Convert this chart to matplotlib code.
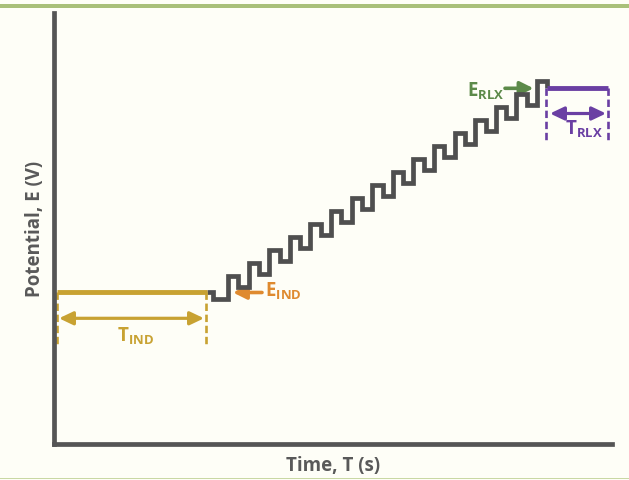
import matplotlib
matplotlib.use("Agg")
import matplotlib.pyplot as plt
import numpy as np
from matplotlib.patches import FancyArrowPatch, Rectangle

plt.rcParams["font.family"] = ["Open Sans", "DejaVu Sans"]
plt.rcParams["mathtext.fontset"] = "custom"
plt.rcParams["mathtext.rm"] = "Open Sans:bold"
plt.rcParams["mathtext.it"] = "Open Sans:bold"
plt.rcParams["mathtext.bf"] = "Open Sans:bold"

# waveform levels (arbitrary potential units) and timing (arbitrary time units)
E_IND = 152
E_RLX = 356
E_PRE = 145           # first reverse pulse before the staircase starts
e_high = [168, 181, 194, 207, 220, 233, 246, 259, 272, 285, 298, 311, 324, 337, 350, 363]
e_low = [157, 170, 183, 196, 209, 222, 235, 248, 261, 274, 287, 300, 313, 326, 339]

t_ind = [3.5, 153.5]        # induction period
t_pre = 159.2               # end of the short hold at E_IND
t_sw0 = 174.5               # first forward pulse
half_period = 10.3
t_rlx = [493.8, 554.5]      # relaxation period

gray = "#4f4f4f"
gold = "#c8a232"
orange = "#df8a2f"
green = "#5c8a49"
purple = "#6a3fa3"
label_gray = "#595959"

fig = plt.figure(figsize=(6.29, 4.8), dpi=100, facecolor="#fefef7")
ax = fig.add_axes([53.5 / 629, 36 / 480, (612 - 53.5) / 629, (444 - 13) / 480])
ax.set_facecolor("none")
ax.set_xlim(0, 558.5)
ax.set_ylim(0, 431)

for s in ["top", "right"]:
    ax.spines[s].set_visible(False)
for s in ["left", "bottom"]:
    ax.spines[s].set_color("#555555")
    ax.spines[s].set_linewidth(3.4)
ax.set_xticks([])
ax.set_yticks([])

ax.set_xlabel("Time, T (s)", fontsize=13.5, fontweight="bold", color=label_gray, labelpad=9)
ax.set_ylabel("Potential, E (V)", fontsize=13.5, fontweight="bold", color=label_gray, labelpad=6)

# square wave on a staircase
levels = [E_IND, E_PRE]
for i in range(len(e_high)):
    levels.append(e_high[i])
    levels.append(e_low[i] if i < len(e_low) else E_RLX)
t = [t_ind[1], t_pre] + [t_sw0 + half_period * j for j in range(len(levels) - 2)]
ax.plot(t, levels, drawstyle="steps-post", color=gray, lw=3.4,
        solid_joinstyle="miter", solid_capstyle="butt")

arrow2 = "<|-|>,head_length=0.42,head_width=0.2"
arrow1 = "-|>,head_length=0.4,head_width=0.2"

# induction hold
ax.plot(t_ind, [E_IND, E_IND], color=gold, lw=3.5, solid_capstyle="butt")
for x in [3.2, 152.2]:
    ax.plot([x, x], [E_IND, 99], color=gold, lw=1.9, linestyle=(0, (2.8, 1.4)))
ax.add_patch(FancyArrowPatch((t_ind[0] + 2, 125.7), (t_ind[1] - 3, 125.7),
                             arrowstyle=arrow2, mutation_scale=20, color=gold,
                             lw=2.3, shrinkA=0, shrinkB=0))
ax.text(81.5, 102.3, r"$\mathrm{T_{IND}}$", color=gold, fontsize=13.5,
        ha="center", va="baseline")

# relaxation hold
ax.plot(t_rlx, [E_RLX, E_RLX], color=purple, lw=3.5, solid_capstyle="butt")
for x in [492.8, 554.8]:
    ax.plot([x, x], [E_RLX, 302], color=purple, lw=1.9, linestyle=(0, (2.8, 1.4)))
ax.add_patch(FancyArrowPatch((496.5, 330.5), (552.5, 330.5),
                             arrowstyle=arrow2, mutation_scale=20, color=purple,
                             lw=2.3, shrinkA=0, shrinkB=0))
ax.text(530, 309, r"$\mathrm{T_{RLX}}$", color=purple, fontsize=13.5,
        ha="center", va="baseline")

# potential markers
ax.add_patch(FancyArrowPatch((208.5, 151.5), (179.5, 151.5),
                             arrowstyle=arrow1, mutation_scale=20, color=orange,
                             lw=2.6, shrinkA=0, shrinkB=0))
ax.text(211.5, 147.3, r"$\mathrm{E_{IND}}$", color=orange, fontsize=13.5,
        ha="left", va="baseline")

ax.add_patch(FancyArrowPatch((451.5, 355.7), (480, 355.7),
                             arrowstyle=arrow1, mutation_scale=20, color=green,
                             lw=2.6, shrinkA=0, shrinkB=0))
ax.text(413.5, 347.3, r"$\mathrm{E_{RLX}}$", color=green, fontsize=13.5,
        ha="left", va="baseline")

# frame bands
fig.add_artist(Rectangle((0, 1 - 8 / 480), 1, 4 / 480, transform=fig.transFigure,
                         color="#a9c07a", lw=0))
fig.add_artist(Rectangle((0, 1 / 480), 1, 1.5 / 480, transform=fig.transFigure,
                         color="#c9d8a4", lw=0))

fig.savefig("out.png", dpi=100, facecolor=fig.get_facecolor())
